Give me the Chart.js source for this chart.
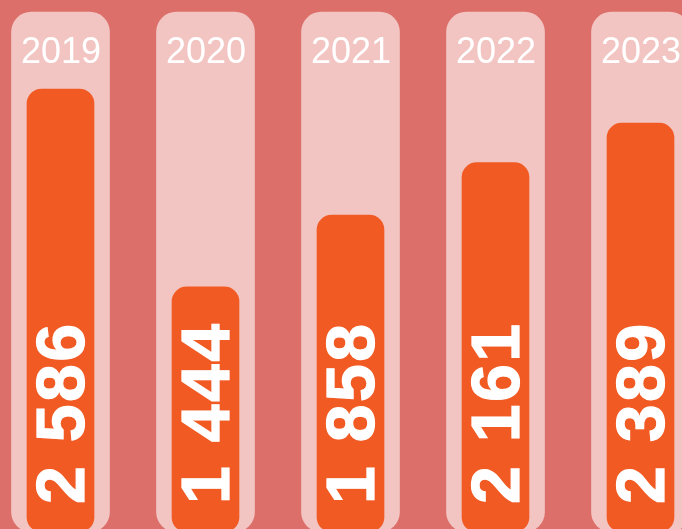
<!DOCTYPE html>
<html>
<head>
<meta charset="utf-8">
<script src="https://cdn.jsdelivr.net/npm/chart.js@4"></script>
<style>
  html, body { margin: 0; padding: 0; width: 682px; height: 529px; overflow: hidden; background: #dc6f69; }
  #wrap { position: absolute; left: -12px; top: 0; width: 725px; height: 560px; }
</style>
</head>
<body>
<div id="wrap"><canvas id="years"></canvas></div>
<script>
const years = ["2019", "2020", "2021", "2022", "2023"];
const counts = [2586, 1444, 1858, 2161, 2389];
const track = [3030, 3030, 3030, 3030, 3030];

function fmt(v) {
  return v.toString().replace(/\B(?=(\d{3})+(?!\d))/g, " ");
}

const labelsPlugin = {
  id: "labels",
  afterDatasetsDraw(chart) {
    const ctx = chart.ctx;
    const bars = chart.getDatasetMeta(0).data;
    ctx.save();
    ctx.fillStyle = "#ffffff";
    ctx.strokeStyle = "#ffffff";
    bars.forEach((bar, i) => {
      // year on top of the track
      ctx.font = '36px "Liberation Sans", Arial, sans-serif';
      ctx.textAlign = "center";
      ctx.textBaseline = "alphabetic";
      ctx.letterSpacing = "0px";
      ctx.fillText(years[i], bar.x + 0.5, 63);
      // value, rotated, reading upwards
      ctx.save();
      ctx.translate(bar.x, 504);
      ctx.rotate(-Math.PI / 2);
      ctx.font = 'bold 68px "Liberation Sans", Arial, sans-serif';
      ctx.letterSpacing = "2.5px";
      ctx.textAlign = "left";
      ctx.lineWidth = 1.2;
      ctx.fillText(fmt(counts[i]), 0, 23);
      ctx.strokeText(fmt(counts[i]), 0, 23);
      ctx.restore();
    });
    ctx.restore();
  }
};

new Chart("years", {
  type: "bar",
  data: {
    labels: years,
    datasets: [{
      data: counts,
      backgroundColor: "#f25a24",
      barThickness: 67,
      borderRadius: 15,
      borderSkipped: false,
      base: 30,
      grouped: false
    }, {
      data: track,
      backgroundColor: "#f2c5c2",
      barThickness: 98,
      borderRadius: 20,
      borderSkipped: false,
      base: 30,
      grouped: false
    }]
  },
  options: {
    responsive: true,
    maintainAspectRatio: false,
    animation: false,
    layout: {padding: {bottom: 23}},
    plugins: {legend: {display: false}, tooltip: {enabled: false}},
    scales: {
      x: {display: false},
      y: {display: false, min: 0, max: 3100}
    }
  },
  plugins: [labelsPlugin]
});
</script>
</body>
</html>
